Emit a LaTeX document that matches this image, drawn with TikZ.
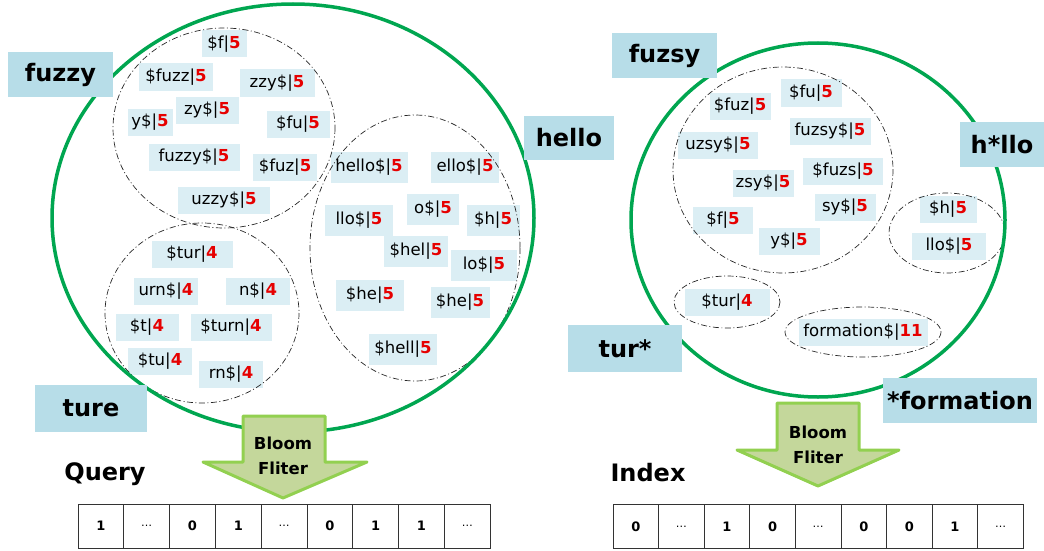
\documentclass[tikz,border=0pt]{standalone}
\usepackage{fontspec}
\setmainfont{DejaVu Sans}
\usetikzlibrary{shapes.geometric}
\definecolor{gline}{RGB}{0,166,80}
\definecolor{lblfill}{RGB}{183,221,232}
\definecolor{sfill}{RGB}{219,238,244}
\definecolor{numred}{RGB}{230,0,0}
\definecolor{arrfill}{RGB}{196,215,155}
\definecolor{arrline}{RGB}{146,208,80}
\newcommand{\nm}[2]{#1|{\color{numred}\bfseries #2}}
\tikzset{
  sbox/.style={fill=sfill, inner sep=0pt, minimum height=27pt, font=\fontsize{16.5}{16.5}\selectfont},
  bigl/.style={fill=lblfill, inner sep=0pt, minimum height=45pt, font=\fontsize{24}{24}\selectfont\bfseries},
  cluster/.style={draw=black!85, dash pattern=on 6pt off 2.5pt on 1pt off 2.5pt, line width=0.7pt},
  bigc/.style={draw=gline, line width=3.5pt},
  bloom/.style={fill=arrfill, draw=arrline, line width=3pt, line join=round},
  bloomt/.style={font=\fontsize{16.5}{16.5}\selectfont\bfseries, inner sep=0pt},
  cell/.style={draw=black!80, line width=0.8pt, minimum width=45.8pt, minimum height=44pt, inner sep=0pt, font=\fontsize{13}{13}\selectfont\bfseries},
  ttl/.style={font=\fontsize{24}{24}\selectfont\bfseries, inner sep=0pt}
}
\newcommand{\dd}{{\mdseries\fontsize{11}{11}\selectfont\dots}}
\begin{document}
\begin{tikzpicture}[x=1pt,y=-1pt]
\useasboundingbox (0,0) rectangle (1044,551);
% ---------- left: small boxes ----------
\node[sbox, minimum width=45pt] (a1) at (224,44) {\nm{\$f}{5}};
\node[sbox, minimum width=74pt] (a2) at (176,77) {\nm{\$fuzz}{5}};
\node[sbox, minimum width=75pt] (a3) at (277,83) {\nm{zzy\$}{5}};
\node[sbox, minimum width=63pt] (a4) at (207,110) {\nm{zy\$}{5}};
\node[sbox, minimum width=45pt] (a5) at (150,122) {\nm{y\$}{5}};
\node[sbox, minimum width=63pt] (a6) at (298,124) {\nm{\$fu}{5}};
\node[sbox, minimum width=91pt] (a7) at (194,157) {\nm{fuzzy\$}{5}};
\node[sbox, minimum width=64pt] (a8) at (285,167) {\nm{\$fuz}{5}};
\node[sbox, minimum width=92pt] (a9) at (224,200) {\nm{uzzy\$}{5}};
% hello
\node[sbox, minimum width=77pt, minimum height=31pt] (b1) at (369,167) {\nm{hello\$}{5}};
\node[sbox, minimum width=68pt, minimum height=31pt] (b2) at (465,167) {\nm{ello\$}{5}};
\node[sbox, minimum width=52pt, minimum height=31pt] (b3) at (433,209) {\nm{o\$}{5}};
\node[sbox, minimum width=68pt, minimum height=31pt] (b4) at (359,220) {\nm{llo\$}{5}};
\node[sbox, minimum width=53pt, minimum height=31pt] (b5) at (493,220) {\nm{\$h}{5}};
\node[sbox, minimum width=64pt, minimum height=31pt] (b6) at (416,251) {\nm{\$hel}{5}};
\node[sbox, minimum width=66pt, minimum height=31pt] (b7) at (484,265) {\nm{lo\$}{5}};
\node[sbox, minimum width=68pt, minimum height=31pt] (b8) at (370,295) {\nm{\$he}{5}};
\node[sbox, minimum width=59pt, minimum height=31pt] (b9) at (460,302) {\nm{\$he}{5}};
\node[sbox, minimum width=68pt, minimum height=31pt] (b10) at (403,349) {\nm{\$hell}{5}};
% ture
\node[sbox, minimum width=81pt] (c1) at (192,254) {\nm{\$tur}{4}};
\node[sbox, minimum width=64pt] (c2) at (166,291) {\nm{urn\$}{4}};
\node[sbox, minimum width=64pt] (c3) at (258,291) {\nm{n\$}{4}};
\node[sbox, minimum width=63pt] (c4) at (147,327) {\nm{\$t}{4}};
\node[sbox, minimum width=81pt] (c5) at (231,327) {\nm{\$turn}{4}};
\node[sbox, minimum width=64pt] (c6) at (160,361) {\nm{\$tu}{4}};
\node[sbox, minimum width=64pt] (c7) at (231,374) {\nm{rn\$}{4}};
% ---------- right: small boxes ----------
\node[sbox, minimum width=61pt] (d1) at (740,106) {\nm{\$fuz}{5}};
\node[sbox, minimum width=61pt] (d2) at (811,93) {\nm{\$fu}{5}};
\node[sbox, minimum width=80pt] (d3) at (718,145) {\nm{uzsy\$}{5}};
\node[sbox, minimum width=81pt] (d4) at (830,131) {\nm{fuzsy\$}{5}};
\node[sbox, minimum width=61pt] (d5) at (763,183) {\nm{zsy\$}{5}};
\node[sbox, minimum width=80pt] (d6) at (843,171) {\nm{\$fuzs}{5}};
\node[sbox, minimum width=61pt] (d7) at (845,207) {\nm{sy\$}{5}};
\node[sbox, minimum width=60pt] (d8) at (723,220) {\nm{\$f}{5}};
\node[sbox, minimum width=61pt] (d9) at (789,241) {\nm{y\$}{5}};
\node[sbox, minimum width=57pt] (e1) at (948,209) {\nm{\$h}{5}};
\node[sbox, minimum width=74pt] (e2) at (949,246) {\nm{llo\$}{5}};
\node[sbox, minimum width=85pt] (f1) at (727,302) {\nm{\$tur}{4}};
\node[sbox, minimum width=129pt] (g1) at (863,332) {\nm{formation\$}{11}};
% ---------- clusters ----------
\draw[cluster] (224,128) ellipse [x radius=111, y radius=100];
\draw[cluster] (415,248) ellipse [x radius=105, y radius=133];
\draw[cluster] (202,313) ellipse [x radius=97, y radius=90];
\draw[cluster] (783,170) ellipse [x radius=110, y radius=103];
\draw[cluster] (947,233) ellipse [x radius=58, y radius=40];
\draw[cluster] (727,302) ellipse [x radius=53, y radius=26];
\draw[cluster] (863,332) ellipse [x radius=78, y radius=25];
% ---------- big circles ----------
\draw[bigc] (293,218) ellipse [x radius=241, y radius=214];
\draw[bigc] (818,220) ellipse [x radius=187, y radius=177];
% ---------- big labels ----------
\node[bigl, minimum width=105pt] (L1) at (60.5,74.5) {fuzzy};
\node[bigl, minimum width=90pt, minimum height=44pt] (L2) at (569,138) {hello};
\node[bigl, minimum width=112pt, minimum height=47pt] (L3) at (91,408.5) {ture};
\node[bigl, minimum width=105pt] (R1) at (664.5,55.5) {fuzsy};
\node[bigl, minimum width=84pt] (R2) at (1002,144.5) {h*llo};
\node[bigl, minimum width=114pt, minimum height=47pt] (R3) at (625,348.5) {tur*};
\node[bigl, minimum width=154pt] (R4) at (960,400.5) {*formation};
% ---------- bloom arrows ----------
\draw[bloom] (243,416) -- (325,416) -- (325,462) -- (367,462) -- (283,498) -- (203,462) -- (243,462) -- cycle;
\node[bloomt] (bl1) at (283,443) {Bloom};
\node[bloomt] (bl2) at (283,468) {Fliter};
\draw[bloom] (777,403) -- (859,403) -- (859,450) -- (899,450) -- (818,486) -- (737,450) -- (777,450) -- cycle;
\node[bloomt] (br1) at (818,432) {Bloom};
\node[bloomt] (br2) at (818,457) {Fliter};
% ---------- titles ----------
\node[ttl] (q) at (105,474) {Query};
\node[ttl] (ix) at (648,473) {Index};
% ---------- arrays ----------
\foreach \v [count=\i from 0] in {1,\dd,0,1,\dd,0,1,1,\dd}{
  \node[cell] (q\i) at (78+22.9+45.8*\i,526) {\v};
}
\foreach \v [count=\i from 0] in {0,\dd,1,0,\dd,0,0,1,\dd}{
  \node[cell, minimum width=45.6pt] (x\i) at (613+22.8+45.6*\i,526.5) {\v};
}
\end{tikzpicture}
\end{document}
